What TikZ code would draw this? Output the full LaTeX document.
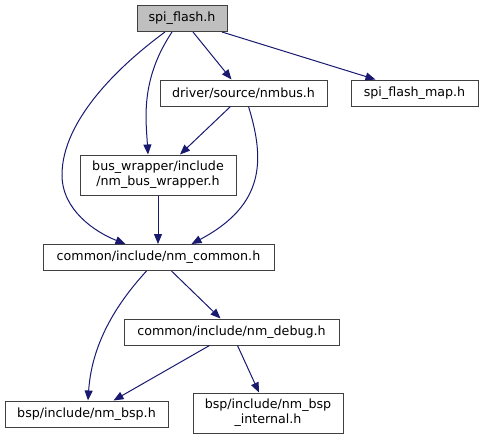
\documentclass[tikz,border=0pt]{standalone}
\usepackage{fontspec}
\setmainfont{DejaVu Sans}
\usetikzlibrary{arrows.meta,calc}
\definecolor{edgeblue}{HTML}{191970}
\definecolor{boxgray}{HTML}{404040}
\begin{document}
\begin{tikzpicture}[
		x=0.75pt, y=-0.75pt,
		box/.style={rectangle, draw=boxgray, fill=white, line width=0.75pt, inner sep=0pt, minimum height=19.5pt, align=center, font=\fontsize{9.5}{11}\selectfont},
		arrow/.style={draw=edgeblue, line width=0.75pt, -{Triangle[length=7.5pt,width=6pt]}}
	]
	\useasboundingbox (0,0) rectangle (483,440);
	% Nodi
	\node[box, fill=black!25, minimum width=67.5pt] (flash) at (182,18.5) {spi\_flash.h};
	\node[box, minimum width=125.25pt] (nmbus) at (243.5,93) {driver/source/nmbus.h};
	\node[box, minimum width=95.25pt] (map) at (414.5,93) {spi\_flash\_map.h};
	\node[box, minimum width=117pt, minimum height=30pt] (wrapper) at (158,175) {bus\_wrapper/include\\/nm\_bus\_wrapper.h};
	\node[box, minimum width=173.25pt] (common) at (158.5,257.5) {common/include/nm\_common.h};
	\node[box, minimum width=161.25pt] (debug) at (231.5,332) {common/include/nm\_debug.h};
	\node[box, minimum width=122.25pt] (bsp) at (86.5,414) {bsp/include/nm\_bsp.h};
	\node[box, minimum width=112.5pt, minimum height=30pt] (internal) at (268,413) {bsp/include/nm\_bsp\\\_internal.h};

	% Frecce
	\draw[arrow] ($(flash.south)+(-17,0)$) .. controls (120,65) and (62,120) .. (62,175)
		.. controls (62,210) and (95,232) .. ($(common.north)+(-33,0)$);
	\draw[arrow] ($(flash.south)+(-10,0)$) .. controls (140,80) and (146,120) .. ($(wrapper.north)+(-10,0)$);
	\draw[arrow] ($(flash.south)+(11,0)$) -- ($(nmbus.north)+(-12,0)$);
	\draw[arrow] ($(flash.south)+(40,0)$) -- ($(map.north)+(-39,0)$);

	\draw[arrow] ($(nmbus.south)+(-13,0)$) -- ($(wrapper.north)+(22,0)$);
	\draw[arrow] ($(nmbus.south)+(5,0)$) .. controls (265,160) and (265,205) .. ($(common.north)+(33,0)$);
	\draw[arrow] (wrapper.south) -- (wrapper.south |- common.north);

	\draw[arrow] ($(common.south)+(-12,0)$) .. controls (120,300) and (92,340) .. ($(bsp.north)+(1.5,0)$);
	\draw[arrow] ($(common.south)+(13,0)$) -- ($(debug.north)+(-11,0)$);
	\draw[arrow] ($(debug.south)+(-22,0)$) -- ($(bsp.north)+(27,0)$);
	\draw[arrow] ($(debug.south)+(6,0)$) -- ($(internal.north)+(-9,0)$);
\end{tikzpicture}
\end{document}
